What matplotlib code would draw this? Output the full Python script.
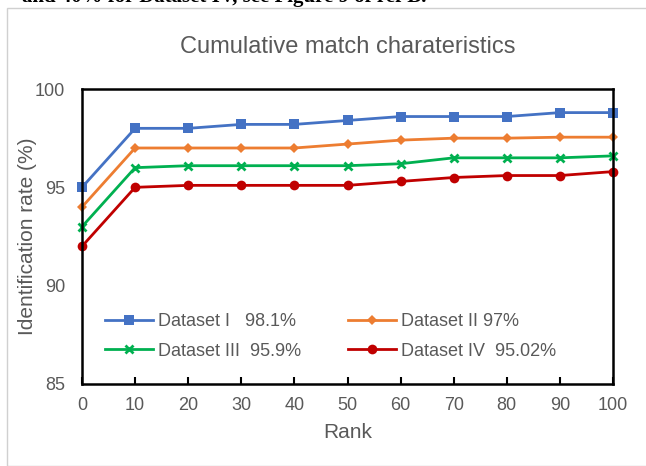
import matplotlib
matplotlib.use("Agg")
import matplotlib.pyplot as plt
from matplotlib.patches import Rectangle

plt.rcParams['font.family'] = ['Liberation Sans', 'DejaVu Sans']

ranks = [0, 10, 20, 30, 40, 50, 60, 70, 80, 90, 100]
dataset_1 = [95.0, 98.0, 98.0, 98.2, 98.2, 98.4, 98.6, 98.6, 98.6, 98.8, 98.8]
dataset_2 = [94.0, 97.0, 97.0, 97.0, 97.0, 97.2, 97.4, 97.5, 97.5, 97.55, 97.55]
dataset_3 = [93.0, 96.0, 96.1, 96.1, 96.1, 96.1, 96.2, 96.5, 96.5, 96.5, 96.6]
dataset_4 = [92.0, 95.0, 95.1, 95.1, 95.1, 95.1, 95.3, 95.5, 95.6, 95.6, 95.8]
labels = ["Dataset I   98.1%", "Dataset II 97%", "Dataset III  95.9%", "Dataset IV  95.02%"]
x_ticks = [0, 10, 20, 30, 40, 50, 60, 70, 80, 90, 100]
y_ticks = [85, 90, 95, 100]

fig = plt.figure(figsize=(6.46, 4.66), dpi=100)
fig.patches.append(Rectangle((7/646, 0), 1.0, 1 - 8/466, transform=fig.transFigure,
                             fill=False, edgecolor='#d0d0d0', linewidth=1.0))
fig.text(22/646, 1 - 2/466, "and 40% for Dataset IV, see Figure 9 of ref B.",
         family='Liberation Serif', fontsize=15, fontweight='bold', color='black',
         va='baseline', ha='left')

ax = fig.add_axes([82/646, 1 - 384/466, (613-82)/646, (384-89)/466])

series = [dataset_1, dataset_2, dataset_3, dataset_4]
colors = ['#4472C4', '#ED7D31', '#00B050', '#C00000']
markers = ['s', 'D', 'x', 'o']
msizes = [7, 5, 6, 7]
handles = []
for s, c, m, ms, lab in zip(series, colors, markers, msizes, labels):
    kw = dict(markeredgewidth=2) if m == 'x' else dict(markeredgewidth=0)
    h, = ax.plot(ranks, s, color=c, marker=m, markersize=ms, linewidth=2.0, label=lab,
                 clip_on=False, **kw)
    handles.append(h)

ax.set_xlim(0, 100)
ax.set_ylim(85, 100)
ax.set_xticks(x_ticks)
ax.set_yticks(y_ticks)
ax.tick_params(axis='x', direction='in', length=5, width=1.5, colors='black',
               labelcolor='#595959', labelsize=13, pad=9)
ax.tick_params(axis='y', length=0, labelcolor='#595959', labelsize=13, pad=12)
for sp in ax.spines.values():
    sp.set_linewidth(1.8)
    sp.set_color('black')

ax.set_xlabel("Rank", fontsize=15, color='#595959')
ax.set_ylabel("Identification rate (%)", fontsize=15, color='#595959')
ax.xaxis.set_label_coords(0.5, -(423 - 384) / 295)
ax.yaxis.set_label_coords((37 - 82) / 531, 0.5)
fig.text((82 + 613) / 2 / 646, 1 - 53 / 466, "Cumulative match charateristics",
         fontsize=17, color='#595959', ha='center', va='baseline')

order = [0, 2, 1, 3]
leg = ax.legend([handles[i] for i in order], [labels[i] for i in order],
                ncol=2, loc='center left',
                bbox_to_anchor=((105 - 82) / 531, 1 - (336.5 - 89) / 295),
                frameon=False, borderpad=0, borderaxespad=0,
                fontsize=13, handlelength=2.66, columnspacing=2.57, labelspacing=0.68,
                handletextpad=0.28)
for t in leg.get_texts():
    t.set_color('#595959')

fig.savefig("out.png", dpi=100)
